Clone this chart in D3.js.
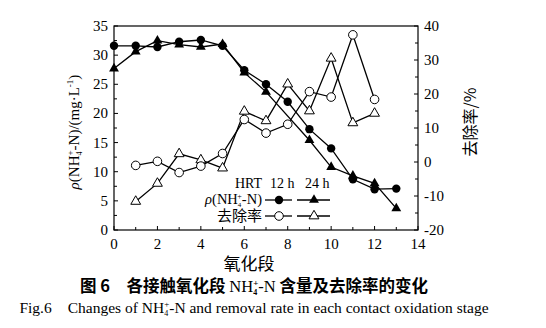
<!DOCTYPE html>
<html>
<head>
<meta charset="utf-8">
<script src="https://cdn.jsdelivr.net/npm/d3@7"></script>
<style>
  body { margin: 0; background: #fff; }
  svg { display: block; }
</style>
</head>
<body>
<svg id="chart" width="546" height="328"></svg>
<script>
// ---- data ----
const stages = [0, 1, 2, 3, 4, 5, 6, 7, 8, 9, 10, 11, 12, 13];
const nh4_12h = [31.6, 31.6, 31.4, 32.3, 32.6, 31.6, 27.4, 25.0, 22.0, 17.3, 14.0, 8.7, 7.0, 7.1];
const nh4_24h = [27.7, 30.6, 32.5, 31.8, 31.4, 31.9, 27.0, 23.7, null, 15.4, 10.8, 9.3, 8.0, 3.7];
const removalStages = [1, 2, 3, 4, 5, 6, 7, 8, 9, 10, 11, 12];
const removal_12h = [-1.0, 0.2, -3.1, -1.2, 2.5, 12.5, 8.5, 11.1, 20.7, 19.1, 37.4, 18.4];
const removal_24h = [-11.6, -6.3, 2.4, 0.6, -1.8, 14.9, 12.1, 22.9, 15.0, 30.5, 11.5, 14.3];
const xTicks = [0, 2, 4, 6, 8, 10, 12, 14];
const yLeftTicks = [0, 5, 10, 15, 20, 25, 30, 35];
const yRightTicks = [-20, -10, 0, 10, 20, 30, 40];

const SERIF = "'Liberation Serif', 'DejaVu Serif', serif";
const CJK = "'Noto Sans CJK SC', sans-serif";

// ---- layout ----
const svg = d3.select("#chart");
const L = 114, R = 418, T = 26, B = 230;
const x = d3.scaleLinear().domain([0, 14]).range([L, R]);
const yL = d3.scaleLinear().domain([0, 35]).range([B, T]);
const yR = d3.scaleLinear().domain([-20, 40]).range([B, T]);

const g = svg.append("g");

// frame
g.append("rect").attr("x", L).attr("y", T).attr("width", R - L).attr("height", B - T)
  .attr("fill", "none").attr("stroke", "#000").attr("stroke-width", 1.2);

// x ticks (inward)
d3.range(0, 15, 1).forEach(v => {
  g.append("line").attr("x1", x(v)).attr("x2", x(v)).attr("y1", B).attr("y2", B - (v % 2 === 0 ? 4 : 3))
    .attr("stroke", "#000").attr("stroke-width", 1);
});
g.selectAll(".xt").data(xTicks).enter().append("text").attr("font-family", SERIF)
  .attr("x", d => x(d)).attr("y", B + 19).attr("text-anchor", "middle")
  .attr("font-size", 15).text(d => d);

// left ticks
d3.range(0, 35.1, 2.5).forEach(v => {
  g.append("line").attr("x1", L).attr("x2", L + (v % 5 === 0 ? 4 : 3)).attr("y1", yL(v)).attr("y2", yL(v))
    .attr("stroke", "#000").attr("stroke-width", 1);
});
g.selectAll(".ylt").data(yLeftTicks).enter().append("text").attr("font-family", SERIF)
  .attr("x", L - 6).attr("y", d => yL(d) + 5).attr("text-anchor", "end")
  .attr("font-size", 15).text(d => d);

// right ticks
d3.range(-20, 40.1, 5).forEach(v => {
  g.append("line").attr("x1", R).attr("x2", R - (v % 10 === 0 ? 4 : 3)).attr("y1", yR(v)).attr("y2", yR(v))
    .attr("stroke", "#000").attr("stroke-width", 1);
});
g.selectAll(".yrt").data(yRightTicks).enter().append("text").attr("font-family", SERIF)
  .attr("x", R + 6).attr("y", d => yR(d) + 5).attr("text-anchor", "start")
  .attr("font-size", 15).text(d => d);

// left axis label
const ll = g.append("text").attr("font-family", SERIF).attr("font-size", 15)
  .attr("transform", `translate(79,132) rotate(-90)`).attr("text-anchor", "middle");
ll.append("tspan").attr("font-style", "italic").text("ρ");
ll.append("tspan").text("(NH");
ll.append("tspan").attr("font-size", 8).attr("dy", 3).text("4");
ll.append("tspan").attr("font-size", 9).attr("dy", -9).attr("dx", -4).text("+");
ll.append("tspan").attr("dy", 6).text("-N)/(mg·L");
ll.append("tspan").attr("font-size", 9).attr("dy", -6).text("-1");
ll.append("tspan").attr("dy", 6).text(")");

// right axis label
g.append("text").attr("font-family", CJK).attr("font-size", 16)
  .attr("transform", `translate(476,122) rotate(-90)`).attr("text-anchor", "middle")
  .text("去除率/%");

// x label
g.append("text").attr("font-family", CJK).attr("font-size", 17)
  .attr("x", 249).attr("y", 270).attr("text-anchor", "middle").text("氧化段");

// captions
const c1 = g.append("text").attr("font-family", CJK).attr("font-size", 16.5).attr("font-weight", "bold")
  .attr("x", 254).attr("y", 292).attr("text-anchor", "middle");
c1.append("tspan").text("图 6　各接触氧化段 ");
c1.append("tspan").attr("font-family", SERIF).attr("font-weight", "normal").text("NH");
c1.append("tspan").attr("font-family", SERIF).attr("font-size", 8).attr("dy", 3).text("4");
c1.append("tspan").attr("font-family", SERIF).attr("font-size", 9).attr("dy", -9).attr("dx", -4).text("+");
c1.append("tspan").attr("font-family", SERIF).attr("font-weight", "normal").attr("dy", 6).text("-N");
c1.append("tspan").text(" 含量及去除率的变化");

const c2 = g.append("text").attr("font-family", SERIF).attr("font-size", 15.5)
  .attr("x", 254).attr("y", 313).attr("text-anchor", "middle");
c2.append("tspan").text("Fig.6　Changes of NH");
c2.append("tspan").attr("font-size", 8).attr("dy", 3).text("4");
c2.append("tspan").attr("font-size", 9).attr("dy", -9).attr("dx", -4).text("+");
c2.append("tspan").attr("dy", 6).text("-N and removal rate in each contact oxidation stage");

// ---- series ----
function drawLine(xs, ys, yScale) {
  const pts = xs.map((d, i) => [d, ys[i]]).filter(p => p[1] != null);
  g.append("path").datum(pts)
    .attr("d", d3.line().x(p => x(p[0])).y(p => yScale(p[1])))
    .attr("fill", "none").attr("stroke", "#000").attr("stroke-width", 1.3);
  return pts;
}
const triPath = d3.symbol().type(d3.symbolTriangle).size(42);

const p12 = drawLine(stages, nh4_12h, yL);
const p24 = drawLine(stages, nh4_24h, yL);
const r12 = drawLine(removalStages, removal_12h, yR);
const r24 = drawLine(removalStages, removal_24h, yR);

g.selectAll(".m24").data(p24).enter().append("path")
  .attr("d", triPath).attr("transform", p => `translate(${x(p[0])},${yL(p[1])})`)
  .attr("fill", "#000");
g.selectAll(".m12").data(p12).enter().append("circle")
  .attr("cx", p => x(p[0])).attr("cy", p => yL(p[1])).attr("r", 4.2).attr("fill", "#000");
g.selectAll(".r24").data(r24).enter().append("path")
  .attr("d", triPath).attr("transform", p => `translate(${x(p[0])},${yR(p[1])})`)
  .attr("fill", "#fff").attr("stroke", "#000").attr("stroke-width", 1);
g.selectAll(".r12").data(r12).enter().append("circle")
  .attr("cx", p => x(p[0])).attr("cy", p => yR(p[1])).attr("r", 4.3)
  .attr("fill", "#fff").attr("stroke", "#000").attr("stroke-width", 1);

// ---- legend ----
const lg = g.append("g");
lg.append("text").attr("font-family", SERIF).attr("font-size", 14).attr("x", 235).attr("y", 188).text("HRT");
lg.append("text").attr("font-family", SERIF).attr("font-size", 14).attr("x", 270).attr("y", 188).text("12 h");
lg.append("text").attr("font-family", SERIF).attr("font-size", 14).attr("x", 305).attr("y", 188).text("24 h");

const lt = lg.append("text").attr("font-family", SERIF).attr("font-size", 14.5).attr("x", 262).attr("y", 204).attr("text-anchor", "end");
lt.append("tspan").attr("font-style", "italic").text("ρ");
lt.append("tspan").text("(NH");
lt.append("tspan").attr("font-size", 7).attr("dy", 3).text("4");
lt.append("tspan").attr("font-size", 8).attr("dy", -8).attr("dx", -4).text("+");
lt.append("tspan").attr("dy", 5).text("-N)");

lg.append("text").attr("font-family", CJK).attr("font-size", 15).attr("x", 262).attr("y", 221).attr("text-anchor", "end").text("去除率");

[[265, 292, 200], [297, 330, 200], [265, 292, 216], [297, 330, 216]].forEach(s => {
  lg.append("line").attr("x1", s[0]).attr("x2", s[1]).attr("y1", s[2]).attr("y2", s[2])
    .attr("stroke", "#000").attr("stroke-width", 1.3);
});
lg.append("circle").attr("cx", 279).attr("cy", 200).attr("r", 4.2).attr("fill", "#000");
lg.append("path").attr("d", triPath).attr("transform", "translate(314,200)").attr("fill", "#000");
lg.append("circle").attr("cx", 279).attr("cy", 216).attr("r", 4.3).attr("fill", "#fff").attr("stroke", "#000");
lg.append("path").attr("d", triPath).attr("transform", "translate(314,216)").attr("fill", "#fff").attr("stroke", "#000");
</script>
</body>
</html>
